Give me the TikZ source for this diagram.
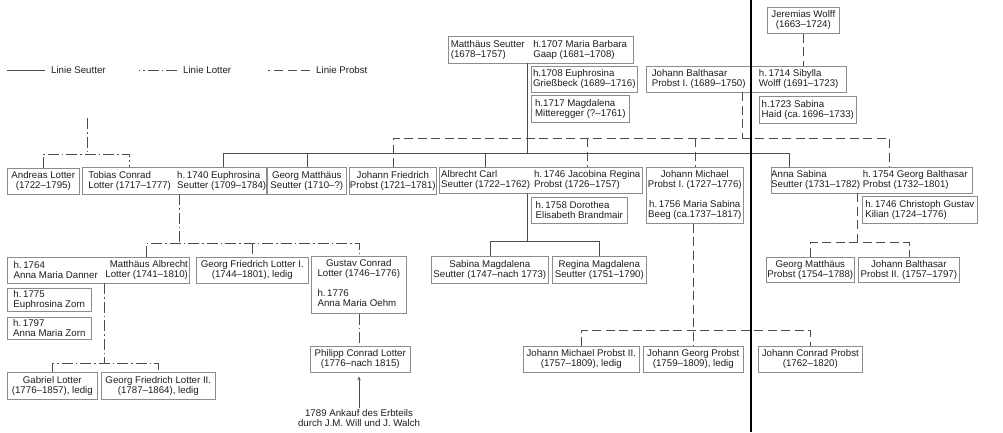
\documentclass[tikz,border=0pt]{standalone}
\usepackage{fontspec}
\setmainfont{Liberation Sans}
\usepackage{tikz}
\usetikzlibrary{arrows}

\definecolor{framegray}{HTML}{8C8C8C}
\definecolor{linegray}{HTML}{4D4D4D}
\definecolor{inkgray}{HTML}{1E1E1E}
\newcommand{\pfont}{\fontsize{9.7}{10}\selectfont}

\begin{document}
\begin{tikzpicture}[x=1pt, y=-1pt,
    part/.style={inner sep=0pt, anchor=north west, font=\pfont, text=inkgray},
    pbox/.style={part, draw=framegray, line width=0.6pt},
    boxsize/.style 2 args={minimum width=#1pt, minimum height=#2pt},
    outline/.style={draw=framegray, line width=0.6pt},
    seutter/.style={draw=linegray, line width=0.6pt},
    lotter/.style={draw=linegray, line width=0.6pt, dash pattern=on 11pt off 3pt on 1.5pt off 3pt},
    probst/.style={draw=linegray, line width=0.6pt, dash pattern=on 9pt off 4.5pt}]
    \fill[white] (0,0) rectangle (1003,432);
    \useasboundingbox (0,0) rectangle (1003,432);

    % legend
    \node[part, anchor=west] (lseutter) at (51,70) {Linie Seutter};
    \node[part, anchor=west] (llotter) at (183,70) {Linie Lotter};
    \node[part, anchor=west] (lprobst) at (316,70) {Linie Probst};
    \draw[seutter] ([xshift=-6pt]lseutter.west) -- ++(-38,0);
    \draw[lotter] ([xshift=-6pt]llotter.west) -- ++(-38,0);
    \draw[probst] ([xshift=-6pt]lprobst.west) -- ++(-42,0);

    % first generation
    \node[part, boxsize={79}{27}, align=left] (seutter) at (448,36) {Matthäus Seutter\\(1678–1757)};
    \node[part, boxsize={106}{27}, align=left] (gaap) at (527,36) {h.1707 Maria Barbara\\Gaap (1681–1708)};
    \draw[outline] (seutter.north west) rectangle (gaap.south east);
    \node[pbox, boxsize={106}{26}, align=left] (griess) at (531,66) {h.1708 Euphrosina\\Grießbeck (1689–1716)};
    \node[pbox, boxsize={98}{27}, align=left] (mitter) at (531,95) {h.1717 Magdalena\\Mitteregger (?–1761)};
    \node[pbox, boxsize={72}{26}, align=center] (wolff) at (767,7) {Jeremias Wolff\\(1663–1724)};
    \node[part, boxsize={105}{26}, align=left] (jbalth) at (646,66) {Johann Balthasar\\Probst I. (1689–1750)};
    \node[part, boxsize={95}{26}, align=left] (sibylla) at (751,66) {h.\,1714 Sibylla\\Wolff (1691–1723)};
    \draw[outline] (jbalth.north west) rectangle (sibylla.south east);
    \node[pbox, boxsize={97}{27}, align=left] (haid) at (759,96) {h.1723 Sabina\\Haid (ca.\,1696–1733)};

    % second generation
    \node[pbox, boxsize={72}{26}, align=center] (andreas) at (7,168) {Andreas Lotter\\(1722–1795)};
    \node[part, boxsize={95}{27}, align=left] (tobias) at (82,167) {Tobias Conrad\\Lotter (1717–1777)};
    \node[part, boxsize={88}{27}, align=left] (euphr) at (177,167) {h.\,1740 Euphrosina\\Seutter (1709–1784)};
    \draw[outline] (tobias.north west) rectangle (euphr.south east);
    \node[pbox, boxsize={79}{27}, align=center] (georgm) at (267,167) {Georg Matthäus\\Seutter (1710–?)};
    \node[pbox, boxsize={87}{27}, align=center] (jfried) at (349,167) {Johann Friedrich\\Probst (1721–1781)};
    \node[part, boxsize={93}{26}, align=left] (albrecht) at (439,167) {Albrecht Carl\\Seutter (1722–1762)};
    \node[part, boxsize={110}{26}, align=left] (jacobina) at (532,167) {h.\,1746 Jacobina Regina\\Probst (1726–1757)};
    \draw[outline] (albrecht.north west) rectangle (jacobina.south east);
    \node[pbox, boxsize={96}{26}, align=left] (dorothea) at (531,197) {h.\,1758 Dorothea\\Elisabeth Brandmair};
    \node[pbox, boxsize={97}{56}, align=center] (jmichael) at (646,167) {Johann Michael\\Probst I. (1727–1776)\\[10pt]h.\,1756 Maria Sabina\\Beeg (ca.1737–1817)};
    \node[part, boxsize={87}{26}, align=left] (annas) at (771,167) {Anna Sabina\\Seutter (1731–1782)};
    \node[part, boxsize={114}{26}, align=left] (georgb) at (858,167) {h.\,1754 Georg Balthasar\\Probst (1732–1801)};
    \draw[outline] (annas.north west) rectangle (georgb.south east);
    \node[pbox, boxsize={115}{27}, align=left] (kilian) at (862,196) {h.\,1746 Christoph Gustav\\Kilian (1724–1776)};

    % third generation
    \node[part, boxsize={97}{26}, align=left] (danner) at (7,257) {h.\,1764\\Anna Maria Danner};
    \node[part, boxsize={85}{26}, align=right] (malbrecht) at (104,257) {Matthäus Albrecht\\Lotter (1741–1810)};
    \draw[outline] (danner.north west) rectangle (malbrecht.south east);
    \node[pbox, boxsize={84}{23}, align=left] (euzorn) at (7,288) {h.\,1775\\Euphrosina Zorn};
    \node[pbox, boxsize={84}{22}, align=left] (amzorn) at (7,317) {h.\,1797\\Anna Maria Zorn};
    \node[pbox, boxsize={112}{26}, align=center] (gfl1) at (196,257) {Georg Friedrich Lotter I.\\(1744–1801), ledig};
    \node[pbox, boxsize={95}{57}] (gustav) at (311,256) {\begin{tabular}{@{}l@{}}\multicolumn{1}{@{}c@{}}{Gustav Conrad}\\Lotter (1746–1776)\\[10pt]h.\,1776\\Anna Maria Oehm\end{tabular}};
    \node[pbox, boxsize={117}{27}, align=center] (sabinam) at (431,256) {Sabina Magdalena\\Seutter (1747–nach 1773)};
    \node[pbox, boxsize={94}{27}, align=center] (reginam) at (552,256) {Regina Magdalena\\Seutter (1751–1790)};
    \node[pbox, boxsize={88}{25}, align=center] (gmprobst) at (766,257) {Georg Matthäus\\Probst (1754–1788)};
    \node[pbox, boxsize={101}{25}, align=center] (jbprobst2) at (858,257) {Johann Balthasar\\Probst II. (1757–1797)};

    % fourth generation
    \node[pbox, boxsize={100}{26}, align=center] (philipp) at (310,346) {Philipp Conrad Lotter\\(1776–nach 1815)};
    \node[pbox, boxsize={116}{26}, align=center] (jmp2) at (523,346) {Johann Michael Probst II.\\(1757–1809), ledig};
    \node[pbox, boxsize={100}{26}, align=center] (jgp) at (643,346) {Johann Georg Probst\\(1759–1809), ledig};
    \node[pbox, boxsize={104}{26}, align=center] (jcp) at (758,346) {Johann Conrad Probst\\(1762–1820)};
    \node[pbox, boxsize={90}{27}, align=center] (gabriel) at (7,372) {Gabriel Lotter\\(1776–1857), ledig};
    \node[pbox, boxsize={114}{27}, align=center] (gfl2) at (101,372) {Georg Friedrich Lotter II.\\(1787–1864), ledig};
    \node[part, anchor=center, inner sep=1pt, align=center] (note) at (359,418) {1789 Ankauf des Erbteils\\durch J.M. Will und J. Walch};

    % Seutter line
    \coordinate (sR) at (789,153);
    \draw[seutter] (seutter.south east) -- (seutter.south east |- sR);
    \draw[seutter] ([xshift=2pt]euphr.north) |- (sR) -- (sR |- annas.north);
    \draw[seutter] (georgm.north) -- (georgm.north |- sR);
    \draw[seutter] (albrecht.north) -- (albrecht.north |- sR);
    \coordinate (aJ) at (527,241);
    \draw[seutter] (aJ |- albrecht.south) -- (aJ);
    \draw[seutter] (sabinam.north) |- (reginam.north |- aJ) -- (reginam.north);

    % Probst line
    \coordinate (pJ) at (742,138);
    \coordinate (pR) at (889,138);
    \draw[probst] (pJ |- jbalth.south) -- (pJ);
    \draw[probst] (jfried.north) |- (pR) -- (pR |- georgb.north);
    \draw[probst] (jacobina.north |- pJ) -- (jacobina.north);
    \draw[probst] (jmichael.north |- pJ) -- (jmichael.north);
    \draw[probst] (wolff.south) -- (wolff.south |- sibylla.north);
    \coordinate (gJ) at (857,242);
    \draw[probst] (gJ |- annas.south) -- (gJ);
    \draw[probst] (gmprobst.north) |- (jbprobst2.north |- gJ) -- (jbprobst2.north);
    \coordinate (mJ) at (693,330);
    \draw[probst] (mJ |- jmichael.south) -- (mJ |- jgp.north);
    \draw[probst] (jmp2.north) |- (jcp.north |- mJ) -- (jcp.north);

    % Lotter line
    \coordinate (lJ) at (87,118);
    \coordinate (lbar) at (87,154);
    \draw[lotter] (lJ) -- (lbar);
    \draw[lotter] (andreas.north) |- (tobias.north |- lbar) -- (tobias.north);
    \coordinate (tJ) at (179,243);
    \draw[lotter] (tJ |- tobias.south) -- (tJ);
    \draw[lotter] (malbrecht.north) |- (gustav.north |- tJ) -- (gustav.north);
    \draw[lotter] (gfl1.north |- tJ) -- (gfl1.north);
    \draw[lotter] (gustav.south) -- (gustav.south |- philipp.north);
    \coordinate (mlJ) at (104,363);
    \draw[lotter] (mlJ |- malbrecht.south) -- (mlJ);
    \draw[lotter] (gabriel.north) |- (gfl2.north |- mlJ) -- (gfl2.north);

    \draw[->, >=stealth, draw=linegray, line width=0.6pt, shorten >=4pt] (note.north) -- (note.north |- philipp.south);

    % divider
    \draw[line width=1.8pt] (751,0) -- (751,432);
\end{tikzpicture}
\end{document}
